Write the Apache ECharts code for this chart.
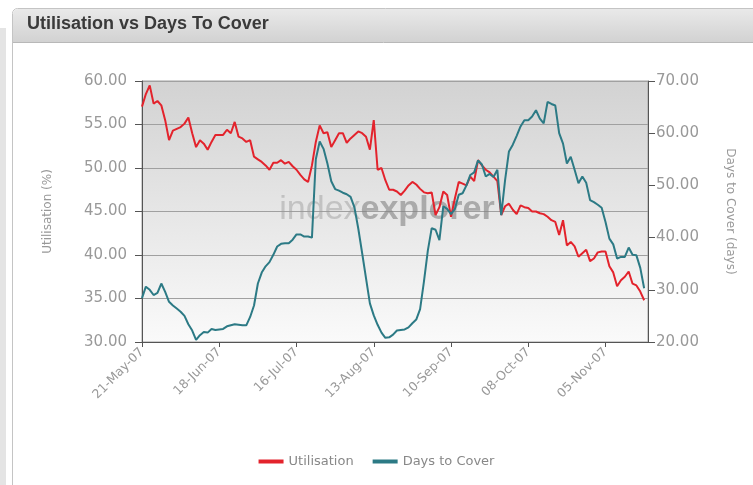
<!DOCTYPE html>
<html><head><meta charset="utf-8">
<script src="https://cdn.jsdelivr.net/npm/echarts@6/dist/echarts.min.js"></script>
<style>html,body{margin:0;padding:0;background:#fff}#c{width:753px;height:485px}</style>
</head><body><div id="c"></div>
<script>
const dates = [
'21-May-07','22-May-07','23-May-07','24-May-07','25-May-07',
'28-May-07','29-May-07','30-May-07','31-May-07','01-Jun-07',
'04-Jun-07','05-Jun-07','06-Jun-07','07-Jun-07','08-Jun-07',
'11-Jun-07','12-Jun-07','13-Jun-07','14-Jun-07','15-Jun-07',
'18-Jun-07','19-Jun-07','20-Jun-07','21-Jun-07','22-Jun-07',
'25-Jun-07','26-Jun-07','27-Jun-07','28-Jun-07','29-Jun-07',
'02-Jul-07','03-Jul-07','04-Jul-07','05-Jul-07','06-Jul-07',
'09-Jul-07','10-Jul-07','11-Jul-07','12-Jul-07','13-Jul-07',
'16-Jul-07','17-Jul-07','18-Jul-07','19-Jul-07','20-Jul-07',
'23-Jul-07','24-Jul-07','25-Jul-07','26-Jul-07','27-Jul-07',
'30-Jul-07','31-Jul-07','01-Aug-07','02-Aug-07','03-Aug-07',
'06-Aug-07','07-Aug-07','08-Aug-07','09-Aug-07','10-Aug-07',
'13-Aug-07','14-Aug-07','15-Aug-07','16-Aug-07','17-Aug-07',
'20-Aug-07','21-Aug-07','22-Aug-07','23-Aug-07','24-Aug-07',
'27-Aug-07','28-Aug-07','29-Aug-07','30-Aug-07','31-Aug-07',
'03-Sep-07','04-Sep-07','05-Sep-07','06-Sep-07','07-Sep-07',
'10-Sep-07','11-Sep-07','12-Sep-07','13-Sep-07','14-Sep-07',
'17-Sep-07','18-Sep-07','19-Sep-07','20-Sep-07','21-Sep-07',
'24-Sep-07','25-Sep-07','26-Sep-07','27-Sep-07','28-Sep-07',
'01-Oct-07','02-Oct-07','03-Oct-07','04-Oct-07','05-Oct-07',
'08-Oct-07','09-Oct-07','10-Oct-07','11-Oct-07','12-Oct-07',
'15-Oct-07','16-Oct-07','17-Oct-07','18-Oct-07','19-Oct-07',
'22-Oct-07','23-Oct-07','24-Oct-07','25-Oct-07','26-Oct-07',
'29-Oct-07','30-Oct-07','31-Oct-07','01-Nov-07','02-Nov-07',
'05-Nov-07','06-Nov-07','07-Nov-07','08-Nov-07','09-Nov-07',
'12-Nov-07','13-Nov-07','14-Nov-07','15-Nov-07','16-Nov-07',
'19-Nov-07','20-Nov-07'
];
const tickDates = ['21-May-07','18-Jun-07','16-Jul-07','13-Aug-07','10-Sep-07','08-Oct-07','05-Nov-07'];

const utilisation = [
57.05,58.5,59.5,57.4,57.7, 57.2,55.5,53.2,54.3,54.5,
54.7,55.1,55.8,54.0,52.4, 53.2,52.8,52.1,53.0,53.8,
53.8,53.8,54.4,54.0,55.3, 53.6,53.4,53.0,53.2,51.3,
51.0,50.7,50.3,49.8,50.6, 50.6,50.9,50.5,50.7,50.2,
49.8,49.2,48.7,48.4,50.3, 53.0,54.9,54.0,54.1,52.4,
53.2,54.0,54.0,52.9,53.4, 53.8,54.2,54.0,53.6,52.1,
55.5,49.8,50.0,48.6,47.5, 47.5,47.3,46.9,47.4,48.0,
48.4,48.1,47.6,47.2,47.1, 47.2,44.6,45.5,47.3,46.9,
44.4,46.5,48.4,48.2,48.0, 49.0,48.5,50.9,50.3,49.8,
49.5,49.0,48.5,44.6,45.6, 45.9,45.2,44.7,45.7,45.5,
45.4,45.0,45.0,44.8,44.7, 44.4,44.0,43.8,42.3,44.0,
41.1,41.5,41.0,39.8,40.2, 40.6,39.3,39.6,40.3,40.4,
40.4,38.7,38.0,36.4,37.1, 37.5,38.1,36.7,36.5,35.8,
34.8,null
];
const daysToCover = [
28.4,30.6,30.0,29.0,29.4, 31.2,29.6,27.7,27.0,26.4,
25.8,25.0,23.4,22.2,20.4, 21.3,21.9,21.8,22.5,22.3,
22.4,22.5,23.0,23.2,23.4, 23.3,23.2,23.2,24.8,27.0,
31.2,33.3,34.5,35.3,36.7, 38.3,38.8,38.9,38.9,39.6,
40.6,40.6,40.2,40.2,40.0, 55.0,58.4,57.0,54.2,50.8,
49.3,49.0,48.6,48.3,47.8, 45.8,41.7,37.0,32.2,27.4,
25.1,23.3,21.8,20.8,20.9, 21.4,22.2,22.3,22.4,22.8,
23.6,24.3,26.3,31.6,37.5, 41.8,41.5,39.5,46.0,45.5,
44.5,45.5,48.2,48.5,50.0, 52.0,52.5,54.8,54.0,51.7,
52.2,51.6,53.0,44.3,51.0, 56.5,57.8,59.5,61.3,62.5,
62.5,63.2,64.4,62.8,61.9, 66.0,65.6,65.3,60.0,58.0,
54.2,55.5,53.0,50.4,51.7, 50.5,47.2,46.8,46.3,45.7,
43.0,39.8,38.7,36.0,36.3, 36.3,38.1,36.7,36.6,34.2,
30.3,null
];

const chart = echarts.init(document.getElementById('c'), null, {renderer:'canvas'});
const FONT = 'DejaVu Sans';
const showTick = (i, v) => tickDates.indexOf(dates[i]) >= 0;
chart.setOption({
  animation: false,
  backgroundColor: '#ffffff',
  textStyle: {fontFamily: FONT},
  graphic: [
    {type:'rect', z:-10, shape:{x:0,y:28,width:6,height:457}, style:{fill:'#e4e4e4'}},
    {type:'rect', z:-10, shape:{x:12.5,y:8.5,width:760,height:500,r:[5,0,0,0]}, style:{fill:'#ffffff', stroke:'#c4c4c4', lineWidth:1}},
    {type:'rect', z:-9, shape:{x:13,y:9,width:760,height:33,r:[5,0,0,0]},
      style:{fill:new echarts.graphic.LinearGradient(0,0,0,1,[{offset:0,color:'#e9e9e9'},{offset:1,color:'#d2d2d2'}])}},
    {type:'line', z:-9, shape:{x1:13,y1:42.5,x2:760,y2:42.5}, style:{stroke:'#b8b8b8', lineWidth:1}},
    {type:'text', z:5, left:27, top:15, style:{text:'Utilisation vs Days To Cover', fill:'#3a3a3a', font:'bold 18px "Liberation Sans", Arial, sans-serif'}},
    {type:'text', z:1, x:387, y:210, silent:true,
      style:{text:'{a|index}{b|explorer}', align:'center', verticalAlign:'middle',
        rich:{a:{fontSize:34, fontFamily:'Liberation Sans', fill:'rgba(150,150,150,0.45)', fontWeight:'normal'},
              b:{fontSize:34, fontFamily:'Liberation Sans', fill:'rgba(130,130,130,0.6)', fontWeight:'bold'}}}}
  ],
  grid: {left:142, right:105, top:81, bottom:143, show:true, borderColor:'#a0a0a0', borderWidth:1,
    backgroundColor: new echarts.graphic.LinearGradient(0,0,0,1,[{offset:0,color:'#d2d2d2'},{offset:1,color:'#fafafa'}])},
  legend: {top:450, left:'center', icon:'rect', itemWidth:25, itemHeight:4, itemGap:19,
    textStyle:{color:'#888', fontSize:13, fontFamily:FONT},
    data:['Utilisation','Days to Cover']},
  xAxis: {type:'category', data:dates, boundaryGap:false,
    axisLine:{lineStyle:{color:'#555'}},
    axisTick:{interval:showTick, length:5, lineStyle:{color:'#555'}},
    axisLabel:{interval:showTick, rotate:45, color:'#999', fontSize:12.5, margin:8, fontFamily:FONT},
    splitLine:{show:false}},
  yAxis: [
    {type:'value', min:30, max:60, interval:5, position:'left',
     name:'Utilisation (%)', nameLocation:'middle', nameGap:88, nameRotate:90,
     nameTextStyle:{color:'#999', fontSize:12, fontFamily:FONT},
     axisLine:{show:true, lineStyle:{color:'#555'}},
     axisTick:{show:true, length:7, lineStyle:{color:'#555'}},
     axisLabel:{color:'#999', fontSize:15, margin:15, fontFamily:FONT, formatter:v=>v.toFixed(2)},
     splitLine:{show:true, lineStyle:{color:'#a0a0a0', width:1}}},
    {type:'value', min:20, max:70, interval:10, position:'right',
     name:'Days to Cover (days)', nameLocation:'middle', nameGap:76, nameRotate:-90,
     nameTextStyle:{color:'#999', fontSize:12, fontFamily:FONT},
     axisLine:{show:true, lineStyle:{color:'#555'}},
     axisTick:{show:true, length:7, lineStyle:{color:'#555'}},
     axisLabel:{color:'#999', fontSize:15, margin:8, fontFamily:FONT, formatter:v=>v.toFixed(2)},
     splitLine:{show:false}}
  ],
  series: [
    {name:'Utilisation', type:'line', yAxisIndex:0, data:utilisation, showSymbol:false, symbol:'none',
     color:'#e3232c', lineStyle:{width:2, color:'#e3232c'}, z:3},
    {name:'Days to Cover', type:'line', yAxisIndex:1, data:daysToCover, showSymbol:false, symbol:'none',
     color:'#2c7a85', lineStyle:{width:2, color:'#2c7a85'}, z:4}
  ]
});
</script></body></html>
